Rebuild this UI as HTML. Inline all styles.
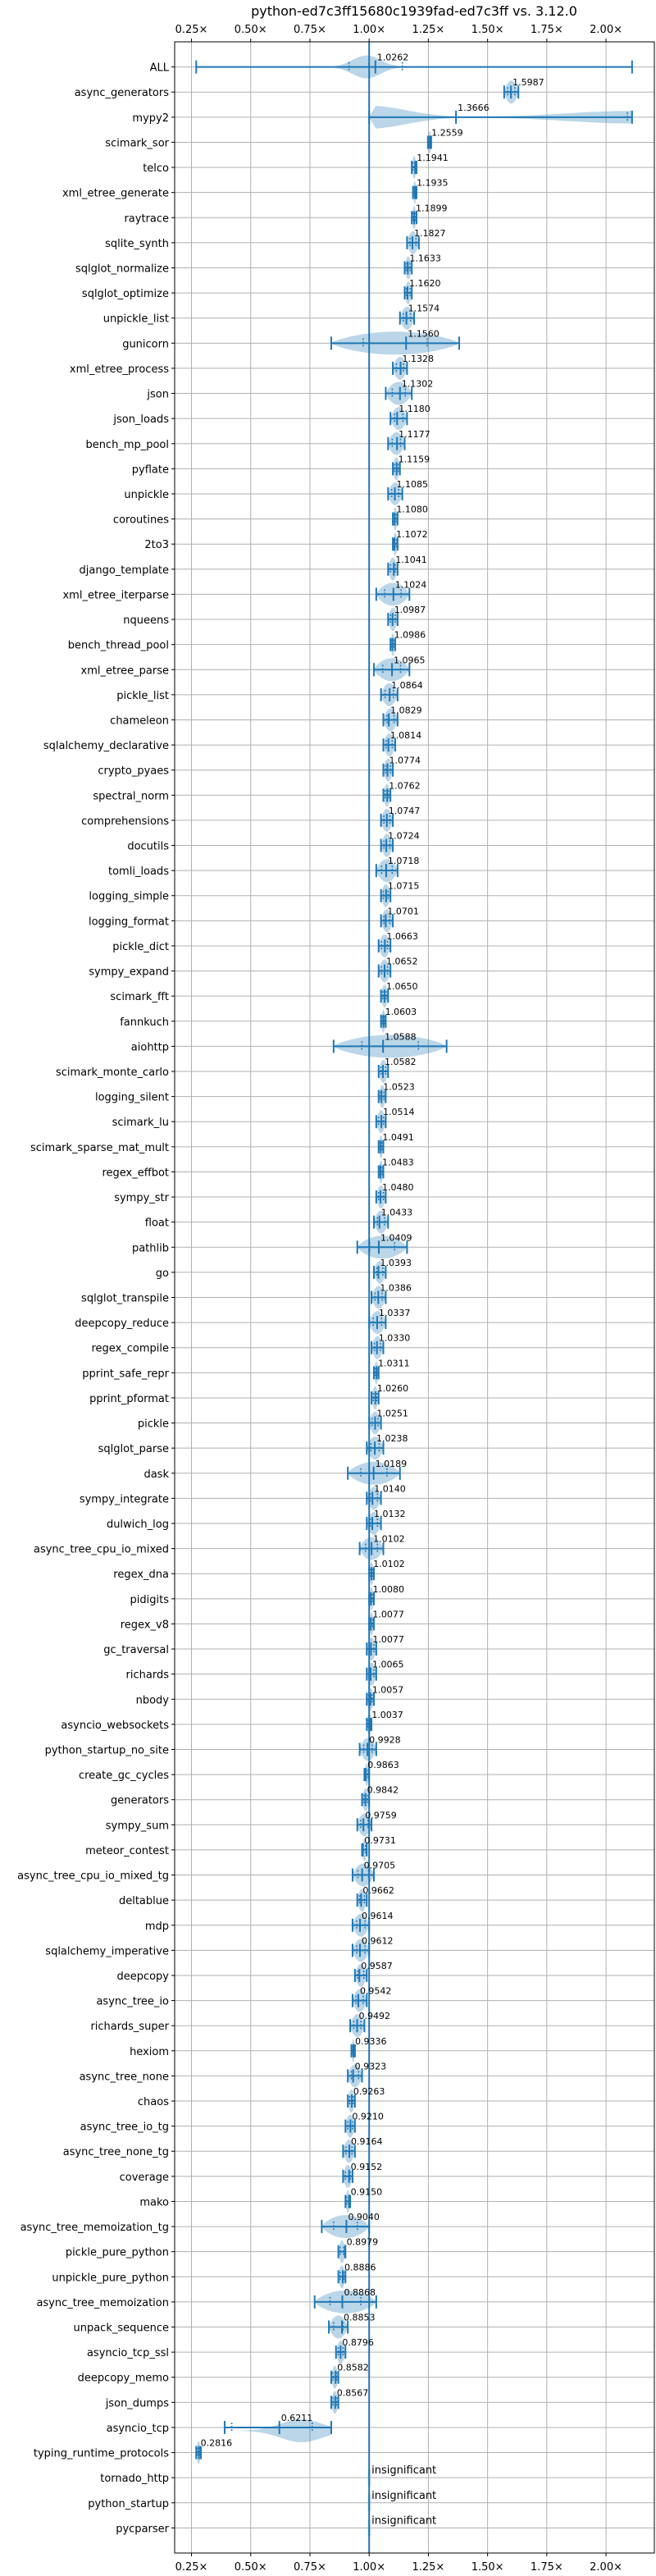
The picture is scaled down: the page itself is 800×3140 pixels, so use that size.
<!DOCTYPE html>
<html><head><meta charset="utf-8"><style>
html,body{margin:0;padding:0;background:#fff;}
svg{display:block;font-family:"DejaVu Sans","Liberation Sans",sans-serif;}
</style></head><body>
<svg id="chart" width="800" height="3140" viewBox="0 0 800 3140">
<text x="505" y="19" font-size="16" text-anchor="middle">python-ed7c3ff15680c1939fad-ed7c3ff vs. 3.12.0</text>
<g id="grid"></g><g id="violins"></g><g id="marks"></g><g id="labels"></g>
</svg>
<script>
const benchmarks = ["ALL","async_generators","mypy2","scimark_sor","telco","xml_etree_generate","raytrace","sqlite_synth","sqlglot_normalize","sqlglot_optimize","unpickle_list","gunicorn","xml_etree_process","json","json_loads","bench_mp_pool","pyflate","unpickle","coroutines","2to3","django_template","xml_etree_iterparse","nqueens","bench_thread_pool","xml_etree_parse","pickle_list","chameleon","sqlalchemy_declarative","crypto_pyaes","spectral_norm","comprehensions","docutils","tomli_loads","logging_simple","logging_format","pickle_dict","sympy_expand","scimark_fft","fannkuch","aiohttp","scimark_monte_carlo","logging_silent","scimark_lu","scimark_sparse_mat_mult","regex_effbot","sympy_str","float","pathlib","go","sqlglot_transpile","deepcopy_reduce","regex_compile","pprint_safe_repr","pprint_pformat","pickle","sqlglot_parse","dask","sympy_integrate","dulwich_log","async_tree_cpu_io_mixed","regex_dna","pidigits","regex_v8","gc_traversal","richards","nbody","asyncio_websockets","python_startup_no_site","create_gc_cycles","generators","sympy_sum","meteor_contest","async_tree_cpu_io_mixed_tg","deltablue","mdp","sqlalchemy_imperative","deepcopy","async_tree_io","richards_super","hexiom","async_tree_none","chaos","async_tree_io_tg","async_tree_none_tg","coverage","mako","async_tree_memoization_tg","pickle_pure_python","unpickle_pure_python","async_tree_memoization","unpack_sequence","asyncio_tcp_ssl","deepcopy_memo","json_dumps","asyncio_tcp","typing_runtime_protocols","tornado_http","python_startup","pycparser"];
const medians = [1.0262,1.5987,1.3666,1.2559,1.1941,1.1935,1.1899,1.1827,1.1633,1.1620,1.1574,1.1560,1.1328,1.1302,1.1180,1.1177,1.1159,1.1085,1.1080,1.1072,1.1041,1.1024,1.0987,1.0986,1.0965,1.0864,1.0829,1.0814,1.0774,1.0762,1.0747,1.0724,1.0718,1.0715,1.0701,1.0663,1.0652,1.0650,1.0603,1.0588,1.0582,1.0523,1.0514,1.0491,1.0483,1.0480,1.0433,1.0409,1.0393,1.0386,1.0337,1.0330,1.0311,1.0260,1.0251,1.0238,1.0189,1.0140,1.0132,1.0102,1.0102,1.0080,1.0077,1.0077,1.0065,1.0057,1.0037,0.9928,0.9863,0.9842,0.9759,0.9731,0.9705,0.9662,0.9614,0.9612,0.9587,0.9542,0.9492,0.9336,0.9323,0.9263,0.9210,0.9164,0.9152,0.9150,0.9040,0.8979,0.8886,0.8868,0.8853,0.8796,0.8582,0.8567,0.6211,0.2816,null,null,null];
const mins = [0.27,1.57,1.0,1.248,1.18,1.185,1.18,1.16,1.15,1.15,1.13,0.84,1.10,1.07,1.09,1.08,1.10,1.08,1.10,1.10,1.08,1.03,1.08,1.09,1.02,1.05,1.06,1.06,1.06,1.06,1.05,1.05,1.03,1.05,1.05,1.04,1.04,1.05,1.05,0.85,1.04,1.04,1.03,1.04,1.04,1.03,1.02,0.95,1.02,1.01,1.00,1.01,1.02,1.01,1.00,0.99,0.91,0.99,0.99,0.96,1.00,1.00,1.00,0.99,0.99,0.99,0.99,0.96,0.98,0.97,0.95,0.97,0.93,0.95,0.93,0.93,0.94,0.93,0.92,0.925,0.91,0.91,0.90,0.89,0.89,0.90,0.80,0.87,0.87,0.77,0.83,0.86,0.84,0.84,0.39,0.27,null,null,null];
const maxs = [2.11,1.63,2.11,1.262,1.20,1.20,1.20,1.21,1.18,1.18,1.19,1.38,1.16,1.18,1.16,1.15,1.13,1.14,1.12,1.12,1.12,1.17,1.12,1.11,1.17,1.12,1.12,1.11,1.10,1.09,1.10,1.10,1.12,1.09,1.10,1.09,1.09,1.08,1.07,1.327,1.08,1.07,1.07,1.06,1.06,1.07,1.08,1.16,1.07,1.07,1.07,1.06,1.04,1.04,1.05,1.06,1.13,1.05,1.05,1.06,1.02,1.02,1.02,1.03,1.03,1.02,1.01,1.03,1.00,1.00,1.01,0.99,1.02,0.99,1.00,1.00,0.99,0.99,0.98,0.94,0.97,0.94,0.94,0.94,0.93,0.92,1.00,0.90,0.90,1.03,0.91,0.90,0.87,0.87,0.84,0.29,null,null,null];
/* visible violin body extent overrides (null = use whisker range) */
const bodyLo = {"ALL":0.80,"asyncio_tcp":0.42};
const bodyHi = {"ALL":1.22};
const q1Over = {"ALL":0.915,"asyncio_tcp":0.42,"mypy2":1.0};
const q3Over = {"ALL":1.14,"asyncio_tcp":0.76,"mypy2":2.09};
const xTicks = [0.25,0.5,0.75,1.0,1.25,1.5,1.75,2.0];
const xTickLabels = ["0.25×","0.50×","0.75×","1.00×","1.25×","1.50×","1.75×","2.00×"];

const L=213,R=798,T=51,B=3112;
const xMin=0.179,xMax=2.204;
function xs(v){return L+(v-xMin)/(xMax-xMin)*(R-L);}
function ys(i){return T+(i+1)*(B-T)/100;}
const NS="http://www.w3.org/2000/svg";
function mk(tag,attrs,parent,txt){const e=document.createElementNS(NS,tag);for(const k in attrs)e.setAttribute(k,attrs[k]);if(txt!==undefined)e.textContent=txt;parent.appendChild(e);return e;}
const grid=document.getElementById('grid'),vio=document.getElementById('violins'),marks=document.getElementById('marks'),labels=document.getElementById('labels');
const C="#1f77b4";
xTicks.forEach((t,i)=>{
  const l=mk('line',{x1:xs(t),x2:xs(t),y1:T,y2:B,stroke:"#b0b0b0","stroke-width":1},grid);
  
  
  const a=mk('text',{x:xs(t),y:40,"font-size":13,"text-anchor":"middle"},labels,xTickLabels[i]);
  
  
  const b=mk('text',{x:xs(t),y:3133,"font-size":13,"text-anchor":"middle"},labels,xTickLabels[i]);
  
  
  mk('line',{x1:xs(t),x2:xs(t),y1:T-4,y2:T,stroke:"#000"},labels);
  mk('line',{x1:xs(t),x2:xs(t),y1:B,y2:B+4,stroke:"#000"},labels);
});
function shape(n,f){
  if(n==="mypy2"){return Math.max(Math.exp(-Math.pow(f/0.2,2)),0.55*Math.exp(-Math.pow((1-f)/0.35,2)))*(f<0.01?f*100:1);}
  if(n==="ALL"){return Math.exp(-Math.pow((f-0.45)/0.2,2));}
  if(n==="asyncio_tcp"){return Math.exp(-Math.pow((f-0.7)/0.3,2));}
  return Math.pow(Math.sin(Math.PI*f),0.7);
}
benchmarks.forEach((n,i)=>{
  const y=ys(i);
  const g=mk('line',{x1:L,x2:R,y1:y,y2:y,stroke:"#b0b0b0","stroke-width":1},grid);
  
  
  mk('line',{x1:L-4,x2:L,y1:y,y2:y,stroke:"#000"},labels);
  const t=mk('text',{x:L-7,y:y+5,"font-size":13,"text-anchor":"end"},labels,n);
  
  
  const m=medians[i];
  if(m===null){
    mk('line',{x1:xs(1),x2:xs(1),y1:y-10,y2:y+10,stroke:"#aac8e0","stroke-width":3},vio);
    const s=mk('text',{x:xs(1)+3,y:y-5,"font-size":13},labels,"insignificant");
    
    
    return;
  }
  const lo=mins[i],hi=maxs[i],x0=xs(lo),x1=xs(hi),H=14;
  const bl=xs(bodyLo[n]!==undefined?bodyLo[n]:lo), bh=xs(bodyHi[n]!==undefined?bodyHi[n]:hi);
  let top=[],bot=[];
  const off=(n==="asyncio_tcp")?4:0;
  for(let k=0;k<=40;k++){const f=k/40;const x=bl+(bh-bl)*f;const h=H*shape(n,f);top.push(x.toFixed(1)+","+(y-h+off).toFixed(1));bot.unshift(x.toFixed(1)+","+(y+h+off).toFixed(1));}
  const p=mk('polygon',{points:top.concat(bot).join(" "),fill:C,"fill-opacity":0.3},vio);
  
  
  const ln=mk('line',{x1:x0,x2:x1,y1:y,y2:y,stroke:C,"stroke-width":2},marks);
  
  
  [x0,x1].forEach(x=>mk('line',{x1:x,x2:x,y1:y-8,y2:y+8,stroke:C,"stroke-width":2},marks));
  const q1=q1Over[n]!==undefined?q1Over[n]:lo+(hi-lo)*0.25,q3=q3Over[n]!==undefined?q3Over[n]:lo+(hi-lo)*0.75;
  [q1,q3].forEach(q=>mk('line',{x1:xs(q),x2:xs(q),y1:y-6,y2:y+6,stroke:C,"stroke-width":1.5,"stroke-dasharray":"2,2"},marks));
  const md=mk('line',{x1:xs(m),x2:xs(m),y1:y-8,y2:y+8,stroke:C,"stroke-width":2},marks);
  
  
  const v=mk('text',{x:xs(m)+2,y:y-8,"font-size":11},labels,m.toFixed(4));
  
  
});
mk('line',{x1:xs(1),x2:xs(1),y1:T,y2:B,stroke:C,"stroke-width":2},marks);
mk('rect',{x:L,y:T,width:R-L,height:B-T,fill:"none",stroke:"#000","stroke-width":1},labels);
</script>
</body></html>
